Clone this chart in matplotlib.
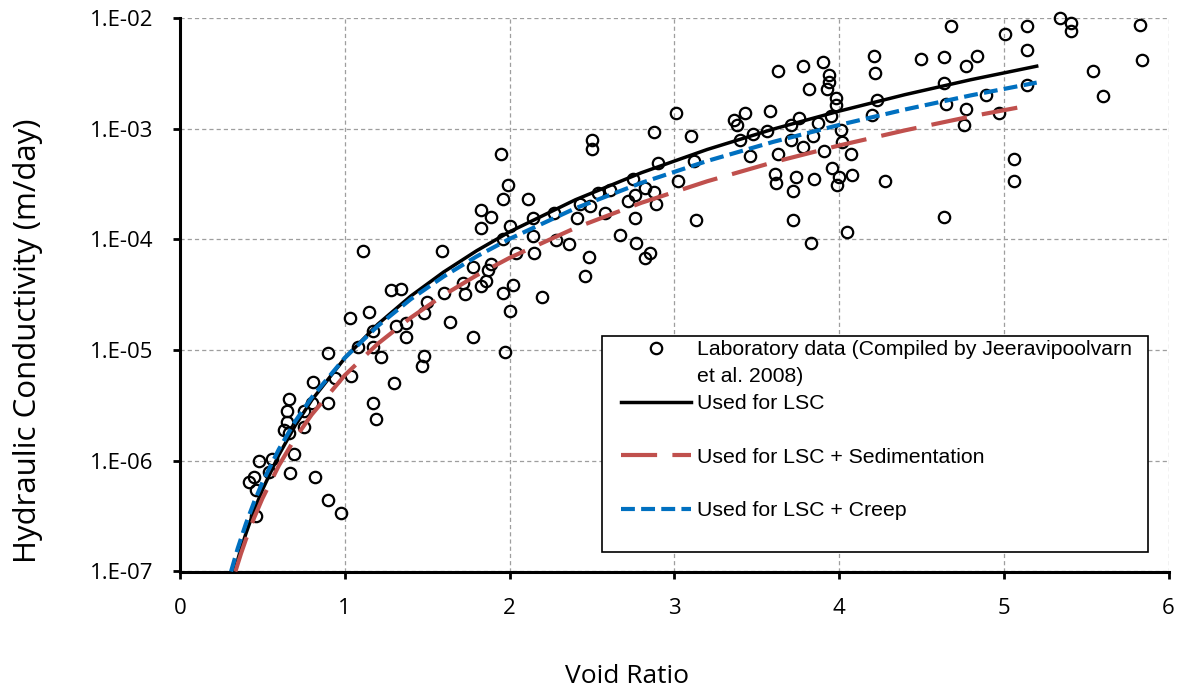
import matplotlib
matplotlib.use("Agg")
import matplotlib.pyplot as plt
from matplotlib.lines import Line2D
from matplotlib.legend_handler import HandlerLine2D
from matplotlib.ticker import NullLocator

# Laboratory data (void ratio, hydraulic conductivity m/day)
lab_e = [1.11, 1.59, 1.28, 1.34, 1.03, 1.15, 1.17, 1.08, 1.17, 1.22,
         0.90, 1.48, 1.47, 1.37, 1.37, 1.31, 1.50, 1.48, 1.60, 1.64,
         1.04, 0.94, 0.81, 0.90, 0.80, 0.75, 0.66, 0.65, 0.65, 0.63,
         0.66, 0.75, 0.69, 0.56, 0.48, 0.54, 0.67, 0.82, 0.45, 0.42,
         0.46, 0.90, 0.98, 0.46, 1.30, 1.17, 1.19,
         1.95, 2.50, 2.50, 2.88, 3.10, 1.99, 1.96, 2.11, 1.83, 1.89,
         1.83, 2.00, 1.96, 2.14, 2.27, 2.43, 2.49, 2.41, 2.54, 2.61,
         2.75, 2.72, 2.76, 2.82, 2.88, 2.89, 2.90, 3.02, 3.12, 3.13,
         2.58, 2.76, 2.67, 2.77, 2.85, 2.82, 2.48, 2.46, 2.36, 2.28,
         2.20, 2.15, 2.14, 2.04, 2.02, 2.00, 1.97, 1.96, 1.89, 1.87,
         1.86, 1.83, 1.78, 1.72, 1.73, 1.78,
         3.01, 3.63, 3.78, 3.90, 3.94, 3.94, 3.93, 3.82, 3.98, 3.98,
         4.21, 4.22, 4.50, 4.23, 4.20, 3.36, 3.38, 3.43, 3.58, 3.40,
         3.48, 3.56, 3.71, 3.76, 3.87, 3.95, 3.71, 3.78, 3.84, 4.01,
         4.02, 3.46, 3.63, 3.91, 4.07, 3.61, 3.62, 3.74, 3.72, 3.85,
         3.96, 4.00, 3.99, 4.08, 4.28, 3.72, 4.05, 3.83,
         4.68, 5.14, 5.34, 5.41, 5.41, 5.83, 5.01, 5.14, 4.64, 4.84,
         4.77, 5.84, 5.54, 5.60, 4.64, 5.14, 4.89, 4.65, 4.77, 4.97,
         4.76, 5.06, 5.06, 4.64]
lab_k = [7.9e-5, 7.9e-5, 3.5e-5, 3.6e-5, 1.95e-5, 2.2e-5, 1.5e-5, 1.07e-5, 1.07e-5, 8.6e-6,
         9.5e-6, 8.9e-6, 7.2e-6, 1.77e-5, 1.32e-5, 1.65e-5, 2.7e-5, 2.15e-5, 3.3e-5, 1.8e-5,
         5.8e-6, 5.6e-6, 5.2e-6, 3.3e-6, 3.3e-6, 2.8e-6, 3.6e-6, 2.8e-6, 2.25e-6, 1.9e-6,
         1.8e-6, 2.0e-6, 1.15e-6, 1.03e-6, 1.0e-6, 7.9e-7, 7.7e-7, 7.2e-7, 7.2e-7, 6.5e-7,
         5.4e-7, 4.4e-7, 3.4e-7, 3.2e-7, 5.0e-6, 3.3e-6, 2.4e-6,
         5.9e-4, 7.9e-4, 6.6e-4, 9.4e-4, 8.6e-4, 3.1e-4, 2.3e-4, 2.3e-4, 1.85e-4, 1.6e-4,
         1.28e-4, 1.32e-4, 1.0e-4, 1.55e-4, 1.72e-4, 2.1e-4, 2.0e-4, 1.55e-4, 2.6e-4, 2.8e-4,
         3.5e-4, 2.2e-4, 2.5e-4, 2.9e-4, 2.7e-4, 2.1e-4, 4.9e-4, 3.4e-4, 5.1e-4, 1.5e-4,
         1.72e-4, 1.55e-4, 1.1e-4, 9.3e-5, 7.5e-5, 6.8e-5, 6.9e-5, 4.7e-5, 9.1e-5, 9.8e-5,
         3.0e-5, 7.5e-5, 1.07e-4, 7.5e-5, 3.9e-5, 2.25e-5, 9.7e-6, 3.3e-5, 6.0e-5, 5.3e-5,
         4.2e-5, 3.8e-5, 5.6e-5, 4.0e-5, 3.2e-5, 1.3e-5,
         1.4e-3, 3.3e-3, 3.7e-3, 4.0e-3, 3.05e-3, 2.65e-3, 2.3e-3, 2.3e-3, 1.9e-3, 1.64e-3,
         4.5e-3, 3.2e-3, 4.3e-3, 1.8e-3, 1.33e-3, 1.2e-3, 1.08e-3, 1.4e-3, 1.45e-3, 7.9e-4,
         8.9e-4, 9.6e-4, 1.08e-3, 1.24e-3, 1.12e-3, 1.3e-3, 7.9e-4, 6.9e-4, 8.6e-4, 9.8e-4,
         7.6e-4, 5.7e-4, 5.9e-4, 6.3e-4, 5.9e-4, 3.9e-4, 3.2e-4, 3.7e-4, 2.75e-4, 3.5e-4,
         4.4e-4, 3.7e-4, 3.1e-4, 3.8e-4, 3.4e-4, 1.5e-4, 1.17e-4, 9.3e-5,
         8.5e-3, 8.5e-3, 9.9e-3, 9.1e-3, 7.7e-3, 8.7e-3, 7.1e-3, 5.1e-3, 4.4e-3, 4.5e-3,
         3.7e-3, 4.2e-3, 3.3e-3, 1.97e-3, 2.6e-3, 2.5e-3, 2.0e-3, 1.66e-3, 1.5e-3, 1.4e-3,
         1.07e-3, 5.3e-4, 3.4e-4, 1.6e-4]

# Curve used for LSC
lsc_e = [0.33, 0.36, 0.4, 0.45, 0.5, 0.6, 0.7, 0.8, 1.0, 1.2, 1.4, 1.6, 1.8,
         2.0, 2.4, 2.8, 3.2, 3.6, 4.0, 4.4, 4.8, 5.2]
lsc_k = [1.0e-7, 1.43e-7, 2.20e-7, 3.56e-7, 5.46e-7, 1.13e-6, 2.09e-6, 3.54e-6,
         8.45e-6, 1.71e-5, 3.07e-5, 5.07e-5, 7.89e-5, 1.17e-4, 2.28e-4, 4.00e-4,
         6.49e-4, 9.91e-4, 1.44e-3, 2.03e-3, 2.77e-3, 3.67e-3]

# Curve used for LSC + Sedimentation
sed_e = [0.336, 0.37, 0.4, 0.45, 0.5, 0.6, 0.7, 0.8, 1.0, 1.2, 1.4, 1.6, 1.8,
         2.0, 2.4, 2.8, 3.2, 3.6, 4.0, 4.4, 4.8, 5.094]
sed_k = [1.0e-7, 1.45e-7, 1.95e-7, 3.06e-7, 4.56e-7, 9.06e-7, 1.61e-6, 2.62e-6,
         5.92e-6, 1.14e-5, 1.96e-5, 3.14e-5, 4.73e-5, 6.81e-5, 1.27e-4, 2.14e-4,
         3.35e-4, 4.97e-4, 7.05e-4, 9.66e-4, 1.29e-3, 1.56e-3]

# Curve used for LSC + Creep
crp_e = [0.31, 0.35, 0.4, 0.45, 0.5, 0.6, 0.7, 0.8, 1.0, 1.2, 1.4, 1.6, 1.8,
         2.0, 2.4, 2.8, 3.2, 3.6, 4.0, 4.4, 4.8, 5.2]
crp_k = [1.0e-7, 1.61e-7, 2.70e-7, 4.25e-7, 6.37e-7, 1.27e-6, 2.28e-6, 3.74e-6,
         8.51e-6, 1.65e-5, 2.88e-5, 4.62e-5, 7.01e-5, 1.01e-4, 1.91e-4, 3.24e-4,
         5.11e-4, 7.60e-4, 1.08e-3, 1.49e-3, 2.00e-3, 2.61e-3]

x_ticks = [0, 1, 2, 3, 4, 5, 6]
y_ticks = [1e-7, 1e-6, 1e-5, 1e-4, 1e-3, 1e-2]
y_ticklabels = ["1.E-07", "1.E-06", "1.E-05", "1.E-04", "1.E-03", "1.E-02"]

plt.rcParams['lines.scale_dashes'] = False

fig = plt.figure(figsize=(11.88, 6.96), dpi=100)
ax = fig.add_axes([180 / 1188, 1 - 571.5 / 696, 988.5 / 1188, 553.5 / 696])

scat, = ax.plot(lab_e, lab_k, linestyle='none', marker='o', markersize=8.2,
                markerfacecolor='none', markeredgecolor='black',
                markeredgewidth=1.6, clip_on=False, zorder=3)
lsc_line, = ax.plot(lsc_e, lsc_k, color='black', linewidth=2.5, zorder=4)
sed_line, = ax.plot(sed_e, sed_k, color='#C0504D', linewidth=3,
                    linestyle=(0, (26, 11)), zorder=4)
crp_line, = ax.plot(crp_e, crp_k, color='#0070C0', linewidth=3,
                    linestyle=(0, (10, 4.5)), zorder=4)

ax.set_yscale('log')
ax.set_xlim(0, 6)
ax.set_ylim(1e-7, 1e-2)
ax.set_xticks(x_ticks)
ax.set_yticks(y_ticks)
ax.set_yticklabels(y_ticklabels)
ax.yaxis.set_minor_locator(NullLocator())

for lab in ax.get_xticklabels() + ax.get_yticklabels():
    lab.set_fontfamily('Open Sans')
    lab.set_fontsize(16)
ax.tick_params(direction='out', length=5, width=2, pad=14, colors='black')

for side in ['top', 'right']:
    ax.spines[side].set_visible(False)
for side in ['left', 'bottom']:
    ax.spines[side].set_linewidth(2.2)
ax.grid(True, color='#9E9E9E', linestyle=(0, (3, 2.2)), linewidth=0.9)
ax.set_axisbelow(True)

ax.set_xlabel('Void Ratio', fontfamily='Open Sans', fontsize=19, va='center')
ax.xaxis.set_label_coords(0.452, -0.189)
ax.set_ylabel('Hydraulic Conductivity (m/day)', fontfamily='Open Sans',
              fontsize=22.5, va='center')
ax.yaxis.set_label_coords(-0.1538, 0.416)

blank = Line2D([], [], linestyle='none')
handles = [scat, blank, lsc_line, blank, sed_line, blank, crp_line, blank]
labels = ["Laboratory data (Compiled by Jeeravipoolvarn  ", "et al. 2008)",
          "Used for LSC", " ", "Used for LSC + Sedimentation", " ",
          "Used for LSC + Creep", " "]
leg = ax.legend(handles, labels, loc='upper left',
                bbox_to_anchor=(0.4269, 0.4255), borderaxespad=0,
                prop={'family': 'Liberation Sans', 'size': 15.3},
                handlelength=4.0, handletextpad=0.29, labelspacing=0.37,
                borderpad=0.2, fancybox=False, framealpha=1,
                edgecolor='black',
                handler_map={Line2D: HandlerLine2D(xpad=0.7)})
leg.get_frame().set_linewidth(1.2)

fig.savefig('out.png', dpi=100)
